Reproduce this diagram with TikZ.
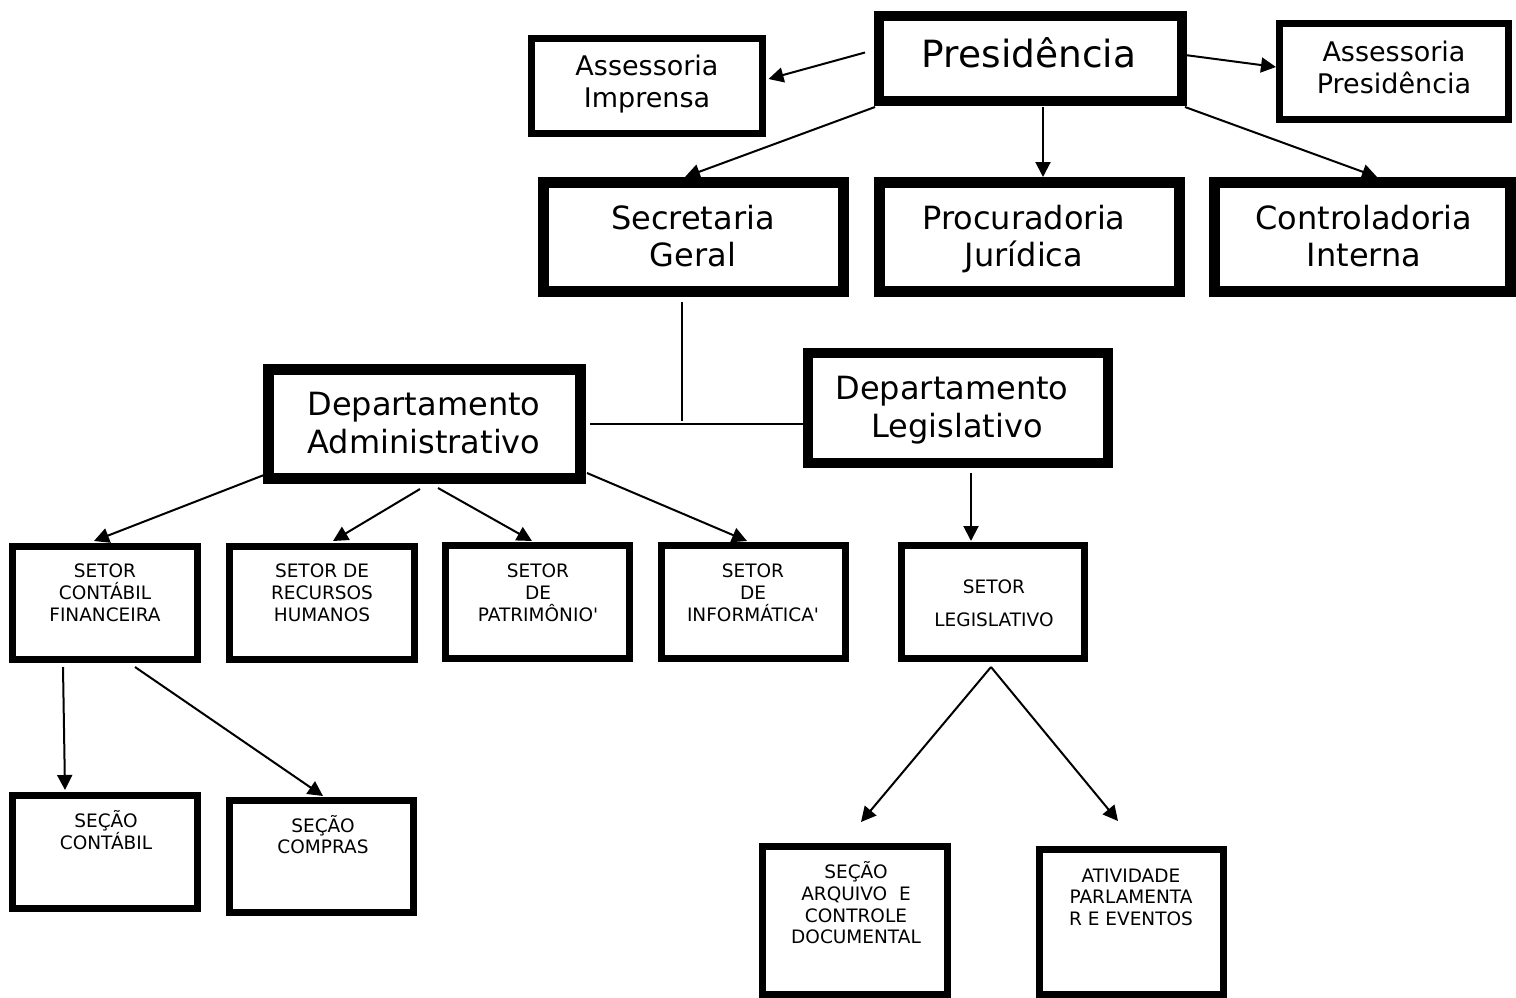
\documentclass[tikz,border=0pt]{standalone}
\usepackage{fontspec}
\setmainfont{DejaVu Sans}
\usetikzlibrary{arrows.meta,calc}
\newcommand\obox[6]{\node[boxst, line width=#6pt, minimum width={(#3-#2-#6)*1pt}, minimum height={(#5-#4-#6)*1pt}] (#1) at ({(#2+#3)/2},{(#4+#5)/2}) {};}
\newcommand\boxlines[4]{\foreach \ly/\lytxt [count=\li] in {#4}{\node[#3, anchor=base, inner sep=0pt] (#1-\li) at (#2,\ly) {\lytxt};}}
\begin{document}
\begin{tikzpicture}[x=1pt,y=-1pt,
  boxst/.style={draw=black, inner sep=0pt, outer sep=0pt},
  arr/.style={line width=2pt, -{Triangle[length=15pt,width=15pt]}},
  ln/.style={line width=2pt},
  fA/.style={font=\fontsize{37.5}{45}\selectfont},
  fB/.style={font=\fontsize{32}{38}\selectfont},
  fC/.style={font=\fontsize{27}{32}\selectfont},
  fD/.style={font=\fontsize{18.5}{22}\selectfont}]
\fill[white] (0,0) rectangle (1516,998);
\useasboundingbox (0,0) rectangle (1516,998);
% boxes: name, x0, x1, y0, y1, border
\obox{pres}{874}{1187}{11}{106}{10}
\obox{assimp}{528}{766}{35}{137}{7}
\obox{asspres}{1276}{1512}{20}{123}{7}
\obox{secr}{538}{849}{177}{297}{11}
\obox{proc}{874}{1185}{177}{297}{11}
\obox{ctrl}{1209}{1516}{177}{297}{11}
\obox{dadm}{263}{586}{364}{484}{11}
\obox{dleg}{803}{1113}{348}{468}{10}
\obox{sc}{9}{201}{543}{663}{7}
\obox{srh}{226}{418}{543}{663}{7}
\obox{spat}{442}{633}{542}{662}{7}
\obox{sinf}{658}{849}{542}{662}{7}
\obox{sleg}{898}{1088}{542}{662}{7}
\obox{scont}{9}{201}{792}{912}{7}
\obox{scomp}{226}{417}{797}{916}{7}
\obox{sarq}{759}{951}{843}{998}{7}
\obox{sativ}{1036}{1227}{846}{998}{7}
% texts
\boxlines{presT}{1029}{fA}{67/Presidência}
\boxlines{assimpT}{647}{fC}{75/Assessoria,107/Imprensa}
\boxlines{asspresT}{1394}{fC}{62/Assessoria,93/Presidência}
\boxlines{secrT}{693}{fB}{229/Secretaria,266/Geral}
\boxlines{procT}{1024}{fB}{229/Procuradoria,266/Jurídica}
\boxlines{ctrlT}{1364}{fB}{229/Controladoria,266/Interna}
\boxlines{dadmT}{424}{fB}{415/Departamento,453/Administrativo}
\boxlines{dlegTa}{952}{fB}{399/Departamento}
\boxlines{dlegTb}{957}{fB}{437/Legislativo}
\boxlines{scT}{105}{fD}{577/SETOR,599/CONTÁBIL,621/FINANCEIRA}
\boxlines{srhT}{322}{fD}{577/SETOR DE,599/RECURSOS,621/HUMANOS}
\boxlines{spatT}{538}{fD}{577/SETOR,599/DE,621/PATRIMÔNIO\textquotesingle}
\boxlines{sinfT}{753}{fD}{577/SETOR,599/DE,621/INFORMÁTICA\textquotesingle}
\boxlines{slegT}{994}{fD}{593/SETOR,626/LEGISLATIVO}
\boxlines{scontT}{106}{fD}{827/SEÇÃO,849/CONTÁBIL}
\boxlines{scompT}{323}{fD}{832/SEÇÃO,853/COMPRAS}
\boxlines{sarqT}{856}{fD}{878/SEÇÃO,900/ARQUIVO~~E,922/CONTROLE,943/DOCUMENTAL}
\boxlines{sativT}{1131}{fD}{882/ATIVIDADE,903/PARLAMENTA,925/R E EVENTOS}
% connectors
\draw[arr] ($(pres.west)+(-14,-6)$) -- ($(assimp.east)+(6,-7)$);
\draw[arr] ($(pres.east)+(3,-3.5)$) -- ($(asspres.west)+(-3.5,-4.5)$);
\draw[arr] ($(pres.south west)+(-4,6)$) -- ($(secr.north)+(-8.5,-5.5)$);
\draw[arr] ($(pres.south)+(12.5,6)$) -- ($(proc.north)+(13.5,-5.5)$);
\draw[arr] ($(pres.south east)+(3,6)$) -- ($(ctrl.north)+(14.5,-5.5)$);
\coordinate (jn) at ($(secr.south)+(-11.5,129.5)$);
\draw[ln] ($(secr.south)+(-11.5,10.5)$) -- (jn);
\draw[ln] ($(dadm.east)+(9.5,0)$) -- ($(dleg.west)+(-5,16)$);
\draw[arr] ($(dadm.south west)+(-4.5,-3.5)$) -- ($(sc.north)+(-11,-5.5)$);
\draw[arr] ($(dadm.south)+(-4.5,10.5)$) -- ($(srh.north)+(11,-5.5)$);
\draw[arr] ($(dadm.south)+(13.5,9.5)$) -- ($(spat.north)+(-5.5,-4.5)$);
\draw[arr] ($(dadm.south east)+(6.5,-5.5)$) -- ($(sinf.north)+(-6.5,-4.5)$);
\draw[arr] ($(dleg.south)+(13,10)$) -- ($(sleg.north)+(-22,-4.5)$);
\draw[arr] ($(sc.south)+(-42,7.5)$) -- ($(scont.north)+(-40,-5.5)$);
\draw[arr] ($(sc.south)+(30,7.5)$) -- ($(scomp.north)+(1.5,-4.5)$);
\coordinate (apex) at ($(sleg.south)+(-2,8.5)$);
\draw[arr] (apex) -- ($(sarq.north)+(6,-24.5)$);
\draw[arr] (apex) -- ($(sativ.north)+(-13.5,-28.5)$);
\end{tikzpicture}
\end{document}
